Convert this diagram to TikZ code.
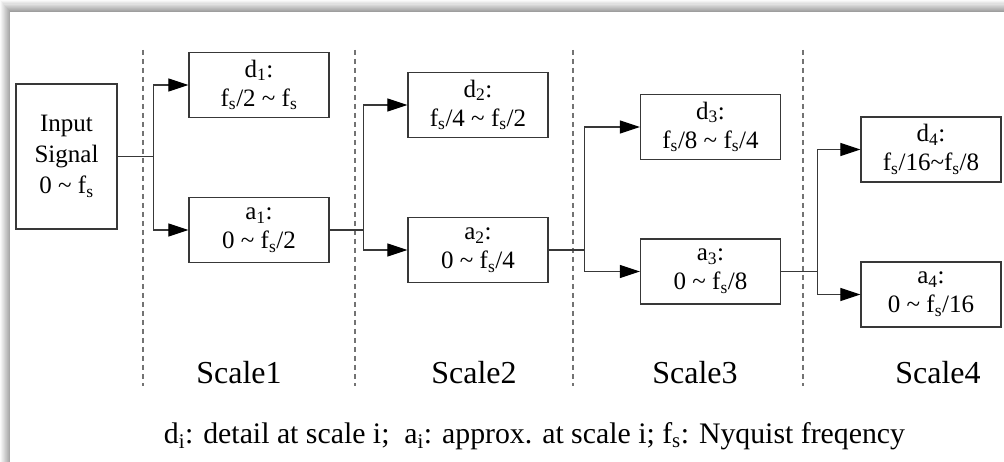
\documentclass[tikz,border=0pt]{standalone}
\usepackage{fontspec}
\setmainfont{Liberation Serif}
\usetikzlibrary{arrows.meta}
\newcommand{\lo}[1]{\textsubscript{#1}}
\newcommand{\tld}{\textasciitilde}
\begin{document}
\begin{tikzpicture}[x=1pt,y=-1pt,
  box/.style={draw=black!78, line width=1.3pt, minimum width=140pt, minimum height=65pt,
    inner sep=0pt, align=center, font=\fontsize{25}{29}\selectfont},
  link/.style={draw=black!78, line width=1.2pt},
  tip/.style={-{Triangle[length=20pt,width=13pt,color=black,fill=black]}},
  divider/.style={draw=black!55, line width=1.1pt, dash pattern=on 5pt off 4pt},
  scalelabel/.style={font=\fontsize{32}{36}\selectfont},
  legend/.style={font=\fontsize{29.8}{34}\selectfont},
]
\useasboundingbox (0,0) rectangle (1004,462);

% soft shadow along the top and left edges of the frame
\foreach \i [evaluate=\i as \k using {int(2+3.6*\i)}] in {0,...,10}
  \fill[black!\k] (\i,1.15*\i) rectangle (1004,462);
\fill[white] (10,12) rectangle (1004,462);

% stage separators
\foreach \xx in {143,355,573,803}
  \draw[divider] (\xx,50) -- (\xx,386);

% input and decomposition boxes
\node[box, minimum width=101pt, minimum height=145pt, font=\fontsize{25}{31}\selectfont]
  (in) at (66.5,156.5) {Input\\Signal\\0 \tld{} f\lo{s}};
\node[box] (d1) at (259,85)    {d\lo{1}:\\f\lo{s}/2 \tld{} f\lo{s}};
\node[box] (a1) at (259,230)   {a\lo{1}:\\0 \tld{} f\lo{s}/2};
\node[box] (d2) at (478,105)   {d\lo{2}:\\f\lo{s}/4 \tld{} f\lo{s}/2};
\node[box] (a2) at (478,250)   {a\lo{2}:\\0 \tld{} f\lo{s}/4};
\node[box] (d3) at (710.5,127) {d\lo{3}:\\f\lo{s}/8 \tld{} f\lo{s}/4};
\node[box] (a3) at (710.5,271.5) {a\lo{3}:\\0 \tld{} f\lo{s}/8};
\node[box] (d4) at (931,149.5) {d\lo{4}:\\f\lo{s}/16\tld f\lo{s}/8};
\node[box] (a4) at (931,294.5) {a\lo{4}:\\0 \tld{} f\lo{s}/16};

% splits: each approximation feeds the next detail / approximation pair
\draw[link] (in.east) -- ++(36,0) coordinate (s1);
\draw[link,tip] (s1) |- (d1.west);
\draw[link,tip] (s1) |- (a1.west);
\draw[link] (a1.east) -- ++(34,0) coordinate (s2);
\draw[link,tip] (s2) |- (d2.west);
\draw[link,tip] (s2) |- (a2.west);
\draw[link] (a2.east) -- ++(36,0) coordinate (s3);
\draw[link,tip] (s3) |- (d3.west);
\draw[link,tip] (s3) |- (a3.west);
\draw[link] (a3.east) -- ++(36,0) coordinate (s4);
\draw[link,tip] (s4) |- (d4.west);
\draw[link,tip] (s4) |- (a4.west);

% scale labels
\node[scalelabel] (sc1) at (239,373) {Scale1};
\node[scalelabel] (sc2) at (474,373) {Scale2};
\node[scalelabel] (sc3) at (695,373) {Scale3};
\node[scalelabel] (sc4) at (938,373) {Scale4};

% legend
\node[legend] (key) at (534.5,436)
  {d\lo{i}: detail at scale i;\ \ a\lo{i}: approx. at scale i; f\lo{s}: Nyquist freqency};
\end{tikzpicture}
\end{document}
